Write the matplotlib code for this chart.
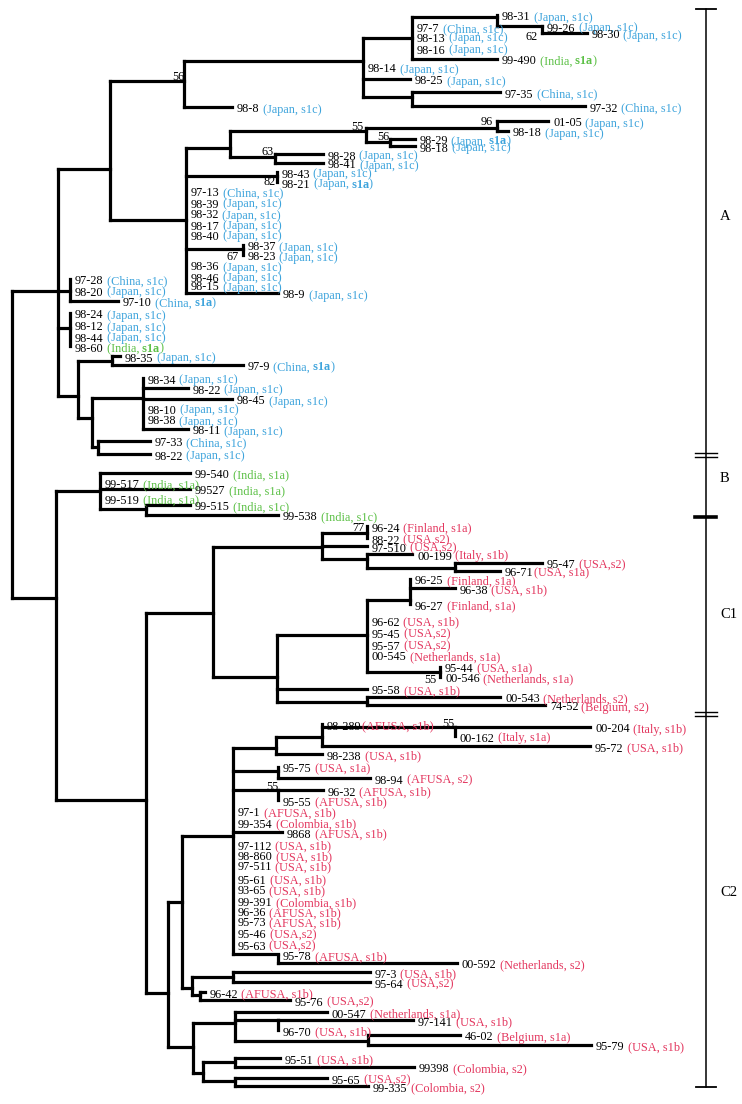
import matplotlib
matplotlib.use("Agg")
import matplotlib.pyplot as plt
from matplotlib.collections import LineCollection

# internal nodes: (name, parent, x, y where the parent branch joins)
nodes_A = [
    ("root", None, 12, 445),
    ("nA", "root", 58, 291),
    ("nA_up", "nA", 110, 169),
    ("n56", "nA_up", 184, 81),
    ("n363", "n56", 363, 61),
    ("n412a", "n363", 412, 38),
    ("n497a", "n412a", 497, 17),
    ("n542", "n497a", 542, 26),
    ("n412b", "n363", 412, 97),
    ("n186", "nA_up", 186, 220),
    ("n230", "n186", 230, 148),
    ("n366", "n230", 366, 131),
    ("n497b", "n366", 497, 128),
    ("n390", "n366", 390, 142),
    ("n275", "n230", 275, 157),
    ("n277", "n186", 277, 176),
    ("n243", "n186", 243, 249),
    ("ng1", "nA", 70, 291),
    ("ng2", "nA", 70, 328),
    ("nlow", "nA", 78, 396),
    ("n112", "nlow", 112, 361),
    ("n92", "nlow", 92, 418),
    ("n143", "n92", 143, 398),
    ("n98", "n92", 98, 447),
]
nodes_B = [
    ("nBC", "root", 56, 598),
    ("nB", "nBC", 100, 491),
    ("n146b", "nB", 146, 509),
]
nodes_C1 = [
    ("nC", "nBC", 146, 800),
    ("nC1", "nC", 213, 613),
    ("n322", "nC1", 322, 547),
    ("n367a", "n322", 367, 533),
    ("n367b", "n322", 367, 559),
    ("n455", "n367b", 455, 568),
    ("n277c", "nC1", 277, 677),
    ("n367c", "n277c", 367, 635),
    ("n410", "n367c", 410, 600),
    ("n440", "n367c", 440, 672),
    ("n367d", "n277c", 367, 702),
]
nodes_C2 = [
    ("nC2", "nC", 168, 993),
    ("n182", "nC2", 182, 902),
    ("n233", "n182", 233, 836),
    ("n276", "n233", 276, 748),
    ("n322c", "n276", 322, 737),
    ("n455c", "n322c", 455, 727),
    ("n278a", "n233", 278, 771),
    ("n278b", "n233", 278, 790),
    ("n278c", "n233", 278, 954),
    ("n192", "n182", 192, 988),
    ("n233b", "n192", 233, 977),
    ("n200", "n192", 200, 995),
    ("n193", "nC2", 193, 1047),
    ("n235", "n193", 235, 1023),
    ("n278d", "n235", 278, 1020),
    ("n368", "n235", 368, 1041),
    ("n203", "n193", 203, 1073),
    ("n235b", "n203", 235, 1062),
    ("n235c", "n203", 235, 1081),
]

# leaves: (id, tag, parent, branch end x or None for zero length, y)
leaves_A = [
    ("98-31", " (Japan, s1c)", "n497a", None, 15),
    ("97-7", " (China, s1c)", "n412a", None, 27),
    ("99-26", " (Japan, s1c)", "n542", None, 26),
    ("98-30", " (Japan, s1c)", "n542", 587, 33),
    ("98-13", " (Japan, s1c)", "n412a", None, 36),
    ("98-16", " (Japan, s1c)", "n412a", None, 48),
    ("99-490", " (India, s1a)", "n412a", 497, 59),
    ("98-14", " (Japan, s1c)", "n363", None, 67),
    ("98-25", " (Japan, s1c)", "n363", 410, 79),
    ("97-35", " (China, s1c)", "n412b", 500, 92),
    ("97-32", " (China, s1c)", "n412b", 585, 106),
    ("98-8", " (Japan, s1c)", "n56", 232, 107),
    ("01-05", " (Japan, s1c)", "n497b", 548, 121),
    ("98-18", " (Japan, s1c)", "n497b", 508, 131),
    ("98-29", " (Japan, s1a)", "n390", 415, 139),
    ("98-18", " (Japan, s1c)", "n390", 415, 146),
    ("98-28", " (Japan, s1c)", "n275", 323, 154),
    ("98-41", " (Japan, s1c)", "n275", 323, 163),
    ("98-43", " (Japan, s1c)", "n277", None, 172),
    ("98-21", " (Japan, s1a)", "n277", None, 182),
    ("97-13", " (China, s1c)", "n186", None, 191),
    ("98-39", " (Japan, s1c)", "n186", None, 202),
    ("98-32", " (Japan, s1c)", "n186", None, 213),
    ("98-17", " (Japan, s1c)", "n186", None, 224),
    ("98-40", " (Japan, s1c)", "n186", None, 234),
    ("98-37", " (Japan, s1c)", "n243", None, 245),
    ("98-23", " (Japan, s1c)", "n243", None, 255),
    ("98-36", " (Japan, s1c)", "n186", None, 265),
    ("98-46", " (Japan, s1c)", "n186", None, 276),
    ("98-15", " (Japan, s1c)", "n186", None, 285),
    ("98-9", " (Japan, s1c)", "n186", 278, 293),
    ("97-28", " (China, s1c)", "ng1", None, 279),
    ("98-20", " (Japan, s1c)", "ng1", None, 290),
    ("97-10", " (China, s1a)", "ng1", 118, 301),
    ("98-24", " (Japan, s1c)", "ng2", None, 313),
    ("98-12", " (Japan, s1c)", "ng2", None, 325),
    ("98-44", " (Japan, s1c)", "ng2", None, 336),
    ("98-60", " (India, s1a)", "ng2", None, 346),
    ("98-35", " (Japan, s1c)", "n112", 120, 356),
    ("97-9", " (China, s1a)", "n112", 243, 365),
    ("98-34", " (Japan, s1c)", "n143", None, 378),
    ("98-22", " (Japan, s1c)", "n143", 188, 388),
    ("98-45", " (Japan, s1c)", "n143", 232, 399),
    ("98-10", " (Japan, s1c)", "n143", None, 408),
    ("98-38", " (Japan, s1c)", "n143", None, 419),
    ("98-11", " (Japan, s1c)", "n143", 188, 429),
    ("97-33", " (China, s1c)", "n98", 150, 441),
    ("98-22", " (Japan, s1c)", "n98", 150, 454),
]
leaves_B = [
    ("99-540", " (India, s1a)", "nB", 190, 473),
    ("99-517", " (India, s1a)", "nB", None, 483),
    ("99527", " (India, s1a)", "nB", 190, 489),
    ("99-519", " (India, s1a)", "nB", None, 498),
    ("99-515", " (India, s1c)", "n146b", 190, 505),
    ("99-538", " (India, s1c)", "n146b", 278, 515),
]
leaves_C1 = [
    ("96-24", " (Finland, s1a)", "n367a", None, 526),
    ("88-22", " (USA,s2)", "n367a", None, 538),
    ("97-510", " (USA,s2)", "n322", 367, 546),
    ("00-199", " (Italy, s1b)", "n367b", 412, 554),
    ("95-47", " (USA,s2)", "n455", 542, 563),
    ("96-71", "(USA, s1a)", "n455", 500, 571),
    ("96-25", " (Finland, s1a)", "n410", None, 579),
    ("96-38", " (USA, s1b)", "n410", 455, 588),
    ("96-27", " (Finland, s1a)", "n410", None, 604),
    ("96-62", " (USA, s1b)", "n367c", None, 620),
    ("95-45", " (USA,s2)", "n367c", None, 632),
    ("95-57", " (USA,s2)", "n367c", None, 644),
    ("00-545", " (Netherlands, s1a)", "n367c", None, 655),
    ("95-44", " (USA, s1a)", "n440", None, 667),
    ("00-546", " (Netherlands, s1a)", "n440", None, 677),
    ("95-58", " (USA, s1b)", "n277c", 367, 689),
    ("00-543", " (Netherlands, s2)", "n367d", 500, 697),
    ("74-52", " (Belgium, s2)", "n367d", 545, 705),
]
leaves_C2 = [
    ("98-289", "(AFUSA, s1b)", "n322c", None, 724),
    ("00-204", " (Italy, s1b)", "n455c", 590, 727),
    ("00-162", " (Italy, s1a)", "n455c", None, 736),
    ("95-72", " (USA, s1b)", "n322c", 590, 746),
    ("98-238", " (USA, s1b)", "n276", 322, 754),
    ("95-75", " (USA, s1a)", "n278a", None, 767),
    ("98-94", " (AFUSA, s2)", "n278a", 370, 778),
    ("96-32", " (AFUSA, s1b)", "n278b", 323, 790),
    ("95-55", " (AFUSA, s1b)", "n278b", None, 800),
    ("97-1", " (AFUSA, s1b)", "n233", None, 811),
    ("99-354", " (Colombia, s1b)", "n233", None, 822),
    ("9868", " (AFUSA, s1b)", "n233", 282, 832),
    ("97-112", " (USA, s1b)", "n233", None, 844),
    ("98-860", " (USA, s1b)", "n233", None, 855),
    ("97-511", " (USA, s1b)", "n233", None, 865),
    ("95-61", " (USA, s1b)", "n233", None, 878),
    ("93-65", " (USA, s1b)", "n233", None, 889),
    ("99-391", " (Colombia, s1b)", "n233", None, 901),
    ("96-36", " (AFUSA, s1b)", "n233", None, 911),
    ("95-73", " (AFUSA, s1b)", "n233", None, 921),
    ("95-46", " (USA,s2)", "n233", None, 933),
    ("95-63", " (USA,s2)", "n233", None, 944),
    ("95-78", " (AFUSA, s1b)", "n278c", None, 955),
    ("00-592", " (Netherlands, s2)", "n278c", 457, 963),
    ("97-3", " (USA, s1b)", "n233b", 370, 972),
    ("95-64", " (USA,s2)", "n233b", 370, 982),
    ("96-42", " (AFUSA, s1b)", "n200", 205, 992),
    ("95-76", " (USA,s2)", "n200", 290, 1000),
    ("00-547", " (Netherlands, s1a)", "n235", 327, 1012),
    ("97-141", " (USA, s1b)", "n278d", 413, 1020),
    ("96-70", " (USA, s1b)", "n278d", None, 1030),
    ("46-02", " (Belgium, s1a)", "n368", 460, 1035),
    ("95-79", " (USA, s1b)", "n368", 591, 1045),
    ("95-51", " (USA, s1b)", "n235b", 280, 1058),
    ("99398", " (Colombia, s2)", "n235b", 414, 1067),
    ("95-65", " (USA,s2)", "n235c", 327, 1078),
    ("99-335", " (Colombia, s2)", "n235c", 368, 1086),
]
bold_s1a = ["99-490", "98-29", "98-21", "97-10", "98-60", "97-9"]

# bootstrap values at nodes
bs_nodes = ["n56", "n542", "n366", "n497b", "n390", "n275", "n277", "n243",
            "n367a", "n440", "n455c", "n278b"]
bs_values = ["56", "62", "55", "96", "56", "63", "82", "67", "77", "55", "55", "55"]

# clade bracket on the right
clade_names = ["A", "B", "C1", "C2"]
clade_label_y = [217, 479, 614, 892]
clade_bounds = [9, 455, 517, 714, 1087]

BLUE = "#3ea4dc"
GREEN = "#5cc046"
RED = "#e3365e"
FONT = dict(family=["Liberation Serif", "DejaVu Serif"], fontsize=8.8)


def tag_color(tag):
    if "India" in tag:
        return GREEN
    if "Japan" in tag or "China" in tag:
        return BLUE
    return RED


def draw_label(ax, x, y, ident, tag, bold):
    col = tag_color(tag)
    t = ax.text(x, y, ident, color="black", va="center", ha="left", **FONT)
    if bold:
        a, b = tag.split(" s1a")
        pieces = [(a, "normal"), (" s1a", "bold"), (b, "normal")]
    else:
        pieces = [(tag, "normal")]
    for s, w in pieces:
        t = ax.annotate(s, xy=(1, 0), xycoords=t, va="bottom", ha="left",
                        color=col, fontweight=w, **FONT)


def main():
    nodes = nodes_A + nodes_B + nodes_C1 + nodes_C2
    leaves = leaves_A + leaves_B + leaves_C1 + leaves_C2
    nx = {n[0]: n[2] for n in nodes}
    ny = {n[0]: n[3] for n in nodes}

    fig = plt.figure(figsize=(7.42, 11.04), dpi=100)
    ax = fig.add_axes([0, 0, 1, 1])
    ax.set_xlim(0, 742)
    ax.set_ylim(1104, 0)
    ax.axis("off")

    segs = []
    kids = {n[0]: [] for n in nodes}
    for name, parent, x, y in nodes:
        if parent is not None:
            kids[parent].append(y)
            segs.append([(nx[parent], y), (x, y)])
    for ident, tag, parent, x, y in leaves:
        kids[parent].append(y)
        if x is not None:
            segs.append([(nx[parent], y), (x, y)])
    for name in kids:
        ys = kids[name]
        segs.append([(nx[name], min(ys)), (nx[name], max(ys))])
    ax.add_collection(LineCollection(segs, colors="black", linewidths=2.3,
                                     capstyle="projecting"))

    for ident, tag, parent, x, y in leaves:
        end = nx[parent] if x is None else x
        draw_label(ax, end + 5, y + 2.5, ident, tag, ident in bold_s1a)

    offsets = [(-6, -4), (-10, 11), (-9, -4), (-10, -6), (-7, -5), (-7, -5),
               (-7, 6), (-10, 8), (-9, -5), (-10, 8), (-7, -3), (-6, -3)]
    for nd, val, (dx, dy) in zip(bs_nodes, bs_values, offsets):
        ax.text(nx[nd] + dx, ny[nd] + dy, val, ha="center", va="center",
                color="black", **FONT)

    # bracket
    bx = 706
    ax.plot([bx, bx], [clade_bounds[0], clade_bounds[-1]], color="black", lw=1.1)
    for i, b in enumerate(clade_bounds):
        if i in (0, len(clade_bounds) - 1):
            ax.plot([bx - 10, bx + 10], [b, b], color="black", lw=1.3)
        elif i == 2:
            ax.plot([bx - 11, bx + 10], [b, b], color="black", lw=2.6)
        else:
            for d in (-2, 2):
                ax.plot([bx - 11, bx + 11], [b + d, b + d], color="black", lw=1.0)
    for name, y in zip(clade_names, clade_label_y):
        ax.text(bx + 14, y, name, ha="left", va="center", color="black",
                family=["Liberation Serif", "DejaVu Serif"], fontsize=10.5)

    fig.savefig("out.png", dpi=100, facecolor="white")


if __name__ == "__main__":
    main()
